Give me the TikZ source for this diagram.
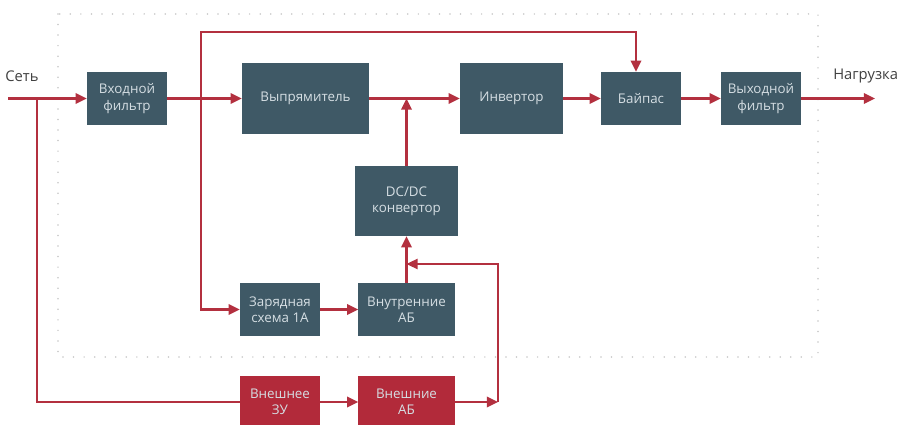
\documentclass[tikz,border=0pt]{standalone}
\usepackage{fontspec}
\setmainfont{Open Sans}
\usetikzlibrary{arrows.meta}
\definecolor{slate}{HTML}{3F5966}
\definecolor{wine}{HTML}{B22A3A}
\definecolor{wire}{HTML}{B3303F}
\definecolor{pale}{HTML}{D5DEE3}
\begin{document}
\begin{tikzpicture}[x=0.025cm, y=-0.025cm,
  blk/.style={fill=slate, text=pale, align=center, font=\fontsize{9.5}{11.5}\selectfont, inner sep=1pt, minimum width=2cm, minimum height=1.325cm},
  redblk/.style={blk, fill=wine},
  wire/.style={draw=wire, line width=1.5pt},
  arr/.style={wire, -{Triangle[length=2.8mm, width=2.6mm]}},
  lbl/.style={anchor=west, text=black!75, font=\fontsize{10.5}{12.5}\selectfont, inner sep=0pt}]
\useasboundingbox (0,0) rectangle (901,425);
\draw[gray!45, line width=1.2pt, line cap=round, dash pattern=on 0pt off 7.5pt] (58,14) rectangle (818,357);
% blocks
\node[blk] (infil) at (127,98.5){Входной\\фильтр};
\node[blk, minimum width=3.175cm, minimum height=1.775cm] (rect) at (305.5,98.5){Выпрямитель};
\node[blk, minimum width=2.575cm, minimum height=1.775cm] (inv) at (511.5,98.5){Инвертор};
\node[blk] (bypass) at (641,98.5){Байпас};
\node[blk] (outfil) at (761,98.5){Выходной\\фильтр};
\node[blk, minimum width=2.55cm, minimum height=1.75cm] (dcdc) at (406.5,201){DC/DC\\конвертор};
\node[blk] (charger) at (280,309.5){Зарядная\\схема 1А};
\node[blk, minimum width=2.4cm] (intab) at (406.5,309.5){Внутренние\\АБ};
\node[redblk, minimum height=1.3cm] (extzu) at (280,402){Внешнее\\ЗУ};
\node[redblk, minimum width=2.4cm, minimum height=1.3cm] (extab) at (406.5,402){Внешние\\АБ};
% labels
\node[lbl] (net) at (5,76){Сеть};
\node[lbl] (load) at (833,76){Нагрузка};
% points on the wires
\coordinate (netin) at (8,98.5);
\coordinate (loadout) at (875,98.5);
\coordinate (j1) at (37,98.5);
\coordinate (j2) at (201,98.5);
\coordinate (j3) at (406.5,98.5);
\coordinate (top) at (201,32);
\coordinate (bpin) at (636,32);
\coordinate (c1) at (498,402);
\coordinate (c2) at (406.5,264);
% wires
\draw[arr] (netin) -- (infil.west);
\draw[wire] (j1) |- (extzu.west);
\draw[arr] (infil.east) -- (rect.west);
\draw[arr] (j2) -- (top) -- (bpin) -- (bpin |- bypass.north);
\draw[arr] (j2) |- (charger.west);
\draw[arr] (rect.east) -- (inv.west);
\draw[arr] (dcdc.north) -- (j3);
\draw[arr] (inv.east) -- (bypass.west);
\draw[arr] (bypass.east) -- (outfil.west);
\draw[arr] (outfil.east) -- (loadout);
\draw[arr] (charger.east) -- (intab.west);
\draw[arr] (intab.north) -- (dcdc.south);
\draw[arr] (extzu.east) -- (extab.west);
\draw[arr] (extab.east) -- (c1);
\draw[arr, line width=1.1pt] (c1) |- (c2);
\end{tikzpicture}
\end{document}
